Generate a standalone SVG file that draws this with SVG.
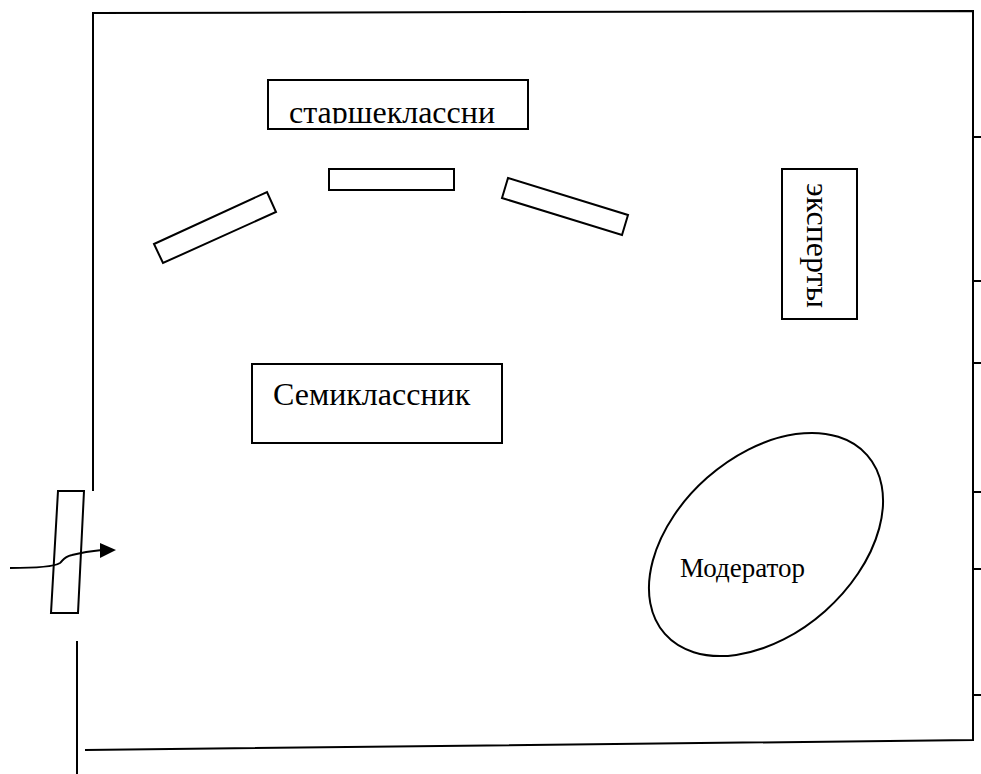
<svg xmlns="http://www.w3.org/2000/svg" width="981" height="774" viewBox="0 0 981 774">
<style>
.w{fill:none;stroke:#000;stroke-width:2}
.b{fill:#fff;stroke:#000;stroke-width:2}
.t{font-family:"Liberation Serif","Times New Roman",serif;fill:#000}
</style>
<defs>
<clipPath id="clipStar"><rect x="268" y="80" width="260" height="43.5"/></clipPath>
</defs>
<g id="walls">
<path class="w" d="M93,491 L93,13 L973,11 L973,740 L85,750"/>
<line class="w" x1="77" y1="641" x2="77" y2="774"/>
<line class="w" x1="973" y1="137" x2="981" y2="137"/>
<line class="w" x1="973" y1="281" x2="981" y2="281"/>
<line class="w" x1="973" y1="363" x2="981" y2="363"/>
<line class="w" x1="973" y1="492" x2="981" y2="492"/>
<line class="w" x1="973" y1="569" x2="981" y2="569"/>
<line class="w" x1="973" y1="695" x2="981" y2="695"/>
</g>
<g id="door">
<polygon class="b" points="58,491 84,491 78,613 51,613"/>
</g>
<g id="starsh">
<rect class="b" x="268" y="80" width="260" height="49"/>
<text class="t" x="289" y="122.5" font-size="32" clip-path="url(#clipStar)">старшеклассни</text>
</g>
<g id="desk-center">
<rect class="b" x="329" y="169" width="125" height="21"/>
</g>
<g id="desk-left">
<polygon class="b" points="154,244 267,192 276,212 163,263"/>
</g>
<g id="desk-right">
<polygon class="b" points="508,178 628,215 622,235 502,198"/>
</g>
<g id="experts">
<rect class="b" x="782" y="169" width="75" height="150"/>
<text class="t" font-size="32" transform="translate(807,183) rotate(90)">эксперты</text>
</g>
<g id="semi">
<rect class="b" x="252" y="364" width="250" height="79"/>
<text class="t" x="273" y="405" font-size="32">Семиклассник</text>
</g>
<g id="moderator">
<ellipse class="b" cx="766" cy="544.5" rx="135" ry="89" transform="rotate(-41.5 766 544.5)"/>
<text class="t" x="680" y="577" font-size="27">Модератор</text>
</g>
<g id="connectors">
<path class="w" d="M10,568 C35,568 55,566 60,563 C63,561 63,557 72,555 C80,553 92,551 102,550"/>
<polygon points="100,543 116,550 100,558" fill="#000"/>
</g>
</svg>
